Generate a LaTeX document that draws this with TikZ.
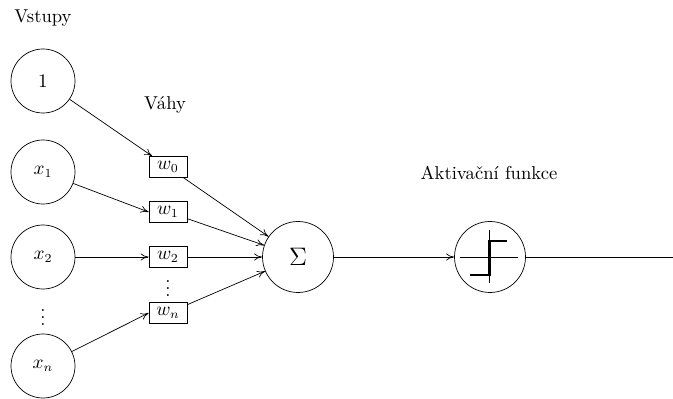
\documentclass[tikz,border=0pt]{standalone}
\usepackage{fontspec}
\usepackage{amsmath,amssymb}
\usetikzlibrary{arrows.meta, positioning}

\begin{document}
\begin{tikzpicture}[>={To[length=1.6mm, width=1.4mm]}, line width=0.4pt,
  font=\fontsize{10.6pt}{12.7pt}\selectfont,
  inp/.style={draw, circle, minimum size=1.28cm, inner sep=0pt},
  wbox/.style={draw, rectangle, minimum width=0.76cm, minimum height=0.42cm, inner sep=1pt},
  unit/.style={draw, circle, minimum size=1.42cm, inner sep=0pt},
  dots/.style={inner sep=0pt}]

% Frame of the page
\useasboundingbox (0,0) rectangle (13.46,-7.98);

% Inputs
\node (lblin) at (0.86,-0.36) {Vstupy};
\node[inp] (in0) at (0.86,-1.62) {$1$};
\node[inp] (in1) at (0.86,-3.44) {$x_1$};
\node[inp] (in2) at (0.86,-5.14) {$x_2$};
\node[dots] (indots) at (0.86,-6.24) {$\vdots$};
\node[inp] (inn) at (0.86,-7.32) {$x_n$};

% Weights
\node (lblw) at (3.30,-2.10) {Váhy};
\node[wbox] (w0) at (3.36,-3.34) {$w_0$};
\node[wbox] (w1) at (3.36,-4.24) {$w_1$};
\node[wbox] (w2) at (3.36,-5.14) {$w_2$};
\node[dots] (wdots) at (3.36,-5.66) {$\vdots$};
\node[wbox] (wn) at (3.36,-6.26) {$w_n$};

% Sum and activation
\node[unit] (sum) at (5.96,-5.14) {\Large $\Sigma$};
\node (lblact) at (9.78,-3.46) {Aktivační funkce};
\node[unit] (act) at (9.80,-5.14) {};
\coordinate (out) at (13.46,-5.14);

% Step function inside the activation unit
\draw (9.20,-5.14) -- (10.36,-5.14);
\draw (9.78,-4.60) -- (9.78,-5.66);
\draw[line width=1.7pt] (9.40,-5.50) -- (9.78,-5.50) -- (9.78,-4.82) -- (10.14,-4.82);

% Inputs -> weights
\draw[->] (in0) -- (w0);
\draw[->] (in1) -- (w1.west);
\draw[->] (in2) -- (w2);
\draw[->] (inn) -- (wn.west);

% Weights -> sum
\foreach \w in {w0,w1,w2,wn}
  \draw[->] (\w) -- (sum);

% Sum -> activation -> output
\draw[->] (sum) -- (act);
\draw (act) -- (out);

\end{tikzpicture}
\end{document}
